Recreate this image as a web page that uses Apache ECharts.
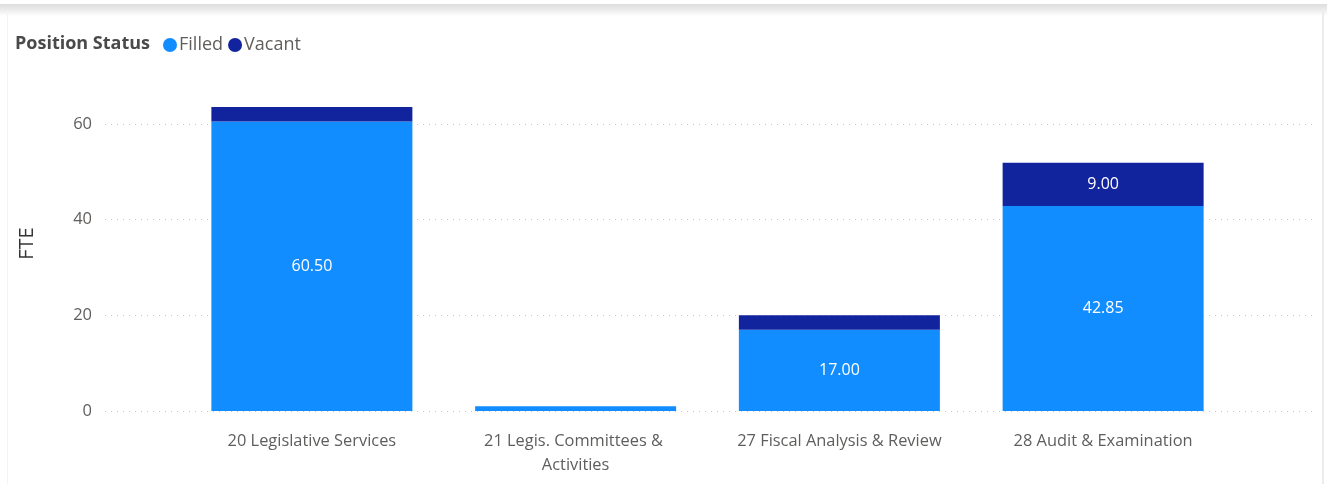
<!DOCTYPE html>
<html>
<head>
<meta charset="utf-8">
<title>Position Status by Division</title>
<script src="https://cdn.jsdelivr.net/npm/echarts@6/dist/echarts.min.js"></script>
<style>
  html, body { margin: 0; padding: 0; background: #ffffff; }
  #chart { width: 1327px; height: 484px; }
</style>
</head>
<body>
<div id="chart"></div>
<script>
// Divisions and FTE counts by position status
const categories = [
  '20 Legislative Services',
  '21 Legis. Committees & Activities',
  '27 Fiscal Analysis & Review',
  '28 Audit & Examination'
];
const filled = [60.5, 1.0, 17.0, 42.85];
const vacant = [3.0, null, 3.0, 9.0];
const yTicks = { min: 0, max: 70, interval: 20 };

const FONT = '"Open Sans", "Noto Sans", sans-serif';
const TEXT = '#605E5C';

// Segments too short to hold a label are left unlabelled
function segLabel(p) {
  return p.value != null && p.value >= 5 ? p.value.toFixed(2) : '';
}

const chart = echarts.init(document.getElementById('chart'), null, { renderer: 'canvas' });

chart.setOption({
  backgroundColor: '#ffffff',
  animation: false,
  textStyle: { fontFamily: FONT },
  graphic: [
    {
      type: 'rect', left: 0, top: 4, silent: true,
      shape: { width: 1327, height: 12 },
      style: {
        fill: new echarts.graphic.LinearGradient(0, 0, 0, 1, [
          { offset: 0, color: '#dedede' },
          { offset: 0.5, color: '#ececec' },
          { offset: 1, color: '#ffffff' }
        ])
      }
    },
    {
      type: 'rect', left: 1322, top: 8, silent: true,
      shape: { width: 2, height: 476 },
      style: { fill: '#ececec' }
    },
    {
      type: 'rect', left: 7, top: 14, silent: true,
      shape: { width: 1, height: 470 },
      style: { fill: '#f3f3f3' }
    },
    {
      type: 'text', left: 15, top: 35, silent: true,
      style: {
        text: 'Position Status',
        fill: '#4a4a4a',
        fontSize: 18,
        fontWeight: 'bold',
        fontFamily: FONT
      }
    }
  ],
  legend: {
    left: 158, top: 31,
    icon: 'circle',
    itemWidth: 14, itemHeight: 14,
    itemGap: 5,
    textStyle: { color: TEXT, fontSize: 18, fontFamily: FONT, padding: [0, 0, 0, -3] },
    data: ['Filled', 'Vacant']
  },
  grid: [
    { left: 105, right: 12, top: 76, bottom: 73 },
    { left: 180, right: 92, top: 76, bottom: 73 }
  ],
  xAxis: [
    { gridIndex: 0, type: 'value', show: false, min: 0, max: 1 },
    {
      gridIndex: 1, type: 'category', data: categories,
      axisLine: { show: false }, axisTick: { show: false },
      axisLabel: {
        color: TEXT, fontSize: 16.4, fontFamily: FONT,
        margin: 18, lineHeight: 24,
        width: 228, overflow: 'break', interval: 0
      }
    }
  ],
  yAxis: [
    {
      gridIndex: 0, type: 'value',
      min: yTicks.min, max: yTicks.max, interval: yTicks.interval,
      name: 'FTE', nameLocation: 'middle', nameGap: 68, nameRotate: 90,
      nameTextStyle: { color: '#333333', fontSize: 20, fontFamily: FONT },
      axisLine: { show: false }, axisTick: { show: false },
      axisLabel: { color: TEXT, fontSize: 16.5, fontFamily: FONT, margin: 13, showMaxLabel: false },
      splitLine: {
        show: true, showMaxLine: false,
        lineStyle: { color: '#c8c6c4', width: 1, type: [1, 5] }
      }
    },
    {
      gridIndex: 1, type: 'value', show: false,
      min: yTicks.min, max: yTicks.max, interval: yTicks.interval,
      splitLine: { show: false }
    }
  ],
  series: [
    {
      name: 'Filled', type: 'bar', stack: 'fte',
      xAxisIndex: 1, yAxisIndex: 1,
      barWidth: 201,
      data: filled,
      itemStyle: { color: '#118DFF' },
      label: {
        show: true, position: 'inside', color: '#ffffff',
        fontSize: 16, fontFamily: FONT, formatter: segLabel
      }
    },
    {
      name: 'Vacant', type: 'bar', stack: 'fte',
      xAxisIndex: 1, yAxisIndex: 1,
      barWidth: 201,
      data: vacant,
      itemStyle: { color: '#12239E' },
      label: {
        show: true, position: 'inside', color: '#ffffff',
        fontSize: 16, fontFamily: FONT, formatter: segLabel
      }
    }
  ]
});
</script>
</body>
</html>
